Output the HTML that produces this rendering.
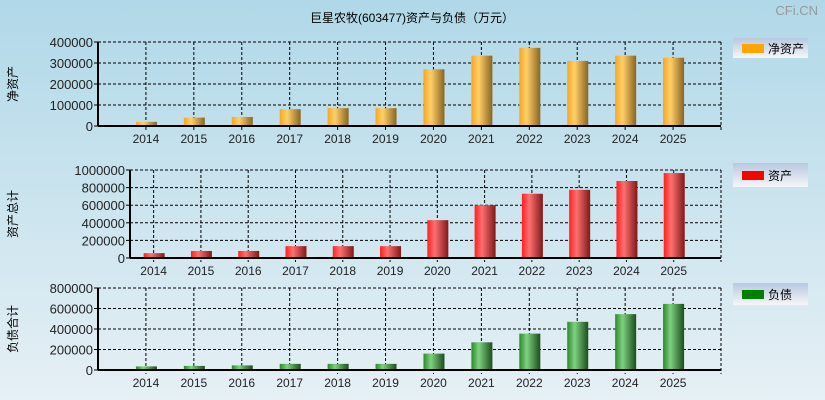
<!DOCTYPE html>
<html><head><meta charset="utf-8"><style>
html,body{margin:0;padding:0;}
svg{display:block;font-family:"Liberation Sans","Noto Sans CJK SC",sans-serif;}
</style></head><body>
<svg id="c" width="825" height="400" xmlns="http://www.w3.org/2000/svg">
<defs>
<linearGradient id="bg" x1="0" y1="0" x2="0" y2="1"><stop offset="0" stop-color="#b0d8e8"/><stop offset="1" stop-color="#e6f0f5"/></linearGradient>
<linearGradient id="lg" x1="0" y1="0" x2="0" y2="1"><stop offset="0" stop-color="#b7c8e0"/><stop offset="1" stop-color="#f6f6f8"/></linearGradient>
<linearGradient id="g0" x1="0" x2="1"><stop offset="0" stop-color="#f5a623"/><stop offset="0.35" stop-color="#ffcf6a"/><stop offset="1" stop-color="#8a6420"/></linearGradient>
<linearGradient id="g1" x1="0" x2="1"><stop offset="0" stop-color="#ff2020"/><stop offset="0.35" stop-color="#ff7070"/><stop offset="1" stop-color="#801818"/></linearGradient>
<linearGradient id="g2" x1="0" x2="1"><stop offset="0" stop-color="#2a8a2a"/><stop offset="0.35" stop-color="#80d080"/><stop offset="1" stop-color="#1c4d1c"/></linearGradient>
</defs>
<rect width="825" height="400" fill="url(#bg)"/>
<text x="412" y="22" font-size="12" text-anchor="middle">巨星农牧(603477)资产与负债（万元）</text>
<text x="818" y="15" font-size="13" text-anchor="end" fill="#999">CFi.CN</text>
<g id="root"></g>
</svg>
<script>
const years=['2014','2015','2016','2017','2018','2019','2020','2021','2022','2023','2024','2025'];
const equity=[20000,40000,43000,80000,85000,85000,270000,335000,372000,310000,335000,325000];
const assets=[55000,80000,80000,135000,135000,135000,430000,600000,730000,775000,875000,965000];
const liabilities=[35000,40000,45000,60000,60000,60000,160000,270000,355000,470000,545000,645000];
const ticks1=[0,100000,200000,300000,400000];
const ticks2=[0,200000,400000,600000,800000,1000000];
const ticks3=[0,200000,400000,600000,800000];
const NS='http://www.w3.org/2000/svg';
const root=document.getElementById('root');
function mk(t,a,p){const e=document.createElementNS(NS,t);for(const k in a)e.setAttribute(k,a[k]);(p||root).appendChild(e);return e;}
const panels=[
 {name:'equity',vals:equity,ticks:ticks1,max:400000,l:98,r:721,t:42,b:126,slots:13,off:1,grad:'g0',color:'#ffa500',ytitle:'净资产',label:'净资产',ly:38,lh:20,yt:84},
 {name:'assets',vals:assets,ticks:ticks2,max:1000000,l:130,r:721,t:170,b:258,slots:12.5,off:0.5,grad:'g1',color:'#ff0000',ytitle:'资产总计',label:'资产',ly:163,lh:24,yt:214},
 {name:'liabilities',vals:liabilities,ticks:ticks3,max:800000,l:98,r:721,t:288,b:370,slots:13,off:1,grad:'g2',color:'#008000',ytitle:'负债合计',label:'负债',ly:283,lh:22,yt:329}
];
panels.forEach(p=>{
 const g=mk('g',{});
 
 
 const sw=(p.r-p.l)/p.slots;
 const xs=i=>p.l+sw*(i+p.off);
 const ys=v=>p.b-(v/p.max)*(p.b-p.t);
 // grid
 p.ticks.forEach(tv=>{
  const y=ys(tv);
  if(tv>0){const ln=mk('line',{x1:p.l,x2:p.r,y1:y,y2:y,stroke:'#000','stroke-dasharray':'3,2','stroke-width':1},g);
  }
  mk('line',{x1:p.l-4,x2:p.l,y1:y,y2:y,stroke:'#000'},g);
  const t=mk('text',{x:p.l-5,y:y+5,'font-size':13,'text-anchor':'end',fill:'#222'},g);t.textContent=tv;
  
 });
 years.forEach((yr,i)=>{
  const x=xs(i);
  const ln=mk('line',{x1:x,x2:x,y1:p.t,y2:p.b+4,stroke:'#000','stroke-dasharray':'3,2'},g);
  
  const t=mk('text',{x:x,y:p.b+17,'font-size':12,'text-anchor':'middle',fill:'#222'},g);t.textContent=yr;
  
 });
 mk('line',{x1:p.r,x2:p.r,y1:p.t,y2:p.b+4,stroke:'#000','stroke-dasharray':'3,2'},g);
 mk('line',{x1:p.l,x2:p.r,y1:p.t,y2:p.t,stroke:'#000','stroke-dasharray':'3,2'},g);
 // bars
 p.vals.forEach((v,i)=>{
  const x=xs(i),y=ys(v);
  const r=mk('rect',{x:x-10,y:y,width:21,height:p.b-y,fill:'url(#'+p.grad+')'},g);
  
  
 });
 mk('line',{x1:p.l,x2:p.l,y1:p.t,y2:p.b,stroke:'#000','stroke-width':2},g);
 mk('line',{x1:p.l,x2:p.r,y1:p.b,y2:p.b,stroke:'#000','stroke-width':2},g);
 const yt=mk('text',{x:0,y:0,'font-size':12,'text-anchor':'middle',transform:'translate(17,'+p.yt+') rotate(-90)'},g);
 yt.textContent=p.ytitle;
 // legend
 const lgg=mk('g',{},g);
 
 
 mk('rect',{x:733,y:p.ly,width:75,height:p.lh,fill:'url(#lg)'},lgg);
 mk('rect',{x:742,y:p.ly+p.lh/2-4,width:22,height:9,fill:p.color},lgg);
 const lt=mk('text',{x:768,y:p.ly+p.lh/2+5,'font-size':12},lgg);lt.textContent=p.label;
});
</script>
</body></html>
